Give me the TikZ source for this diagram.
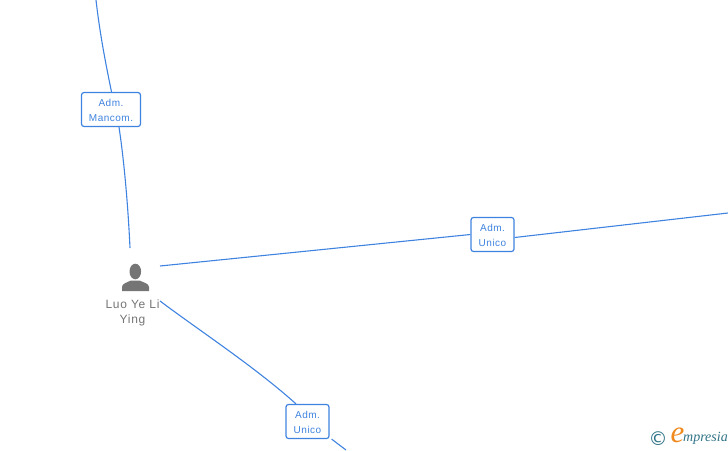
\documentclass[tikz,border=0pt]{standalone}
\usepackage{fontspec}
\setmainfont{Liberation Sans}
\newfontfamily\logofont{Liberation Serif}
\newfontfamily\copyfont{DejaVu Sans}
\definecolor{linkblue}{HTML}{3F83E0}
\definecolor{persongray}{HTML}{757575}
\definecolor{logoteal}{HTML}{2F7387}
\definecolor{logoorange}{HTML}{F08A1D}
\tikzset{
  rolebox/.style={draw=linkblue,line width=1.2pt,rounded corners=2.5pt,fill=white,text=linkblue,
    font=\fontsize{10}{15}\selectfont\addfontfeature{LetterSpace=5},align=center,inner sep=0pt,minimum height=34pt,
    text depth=0pt},
  link/.style={draw=linkblue,line width=1.1pt},
}
\begin{document}
\begin{tikzpicture}[x=1pt,y=-1pt]
  \useasboundingbox (0,0) rectangle (728,450);

  % cargos
  \node[rolebox,minimum width=59pt] (mancom) at (111,109.5) {\raisebox{1pt}{\strut Adm.}\\\raisebox{1pt}{\strut Mancom.}};
  \node[rolebox,minimum width=43pt] (unicoeste) at (492.5,234.5) {\raisebox{1pt}{\strut Adm.}\\\raisebox{1pt}{\strut Unico}};
  \node[rolebox,minimum width=43pt] (unicosur) at (307.5,421.5) {\raisebox{1pt}{\strut Adm.}\\\raisebox{1pt}{\strut Unico}};

  % extremos de las lineas
  \coordinate (arriba) at (96,0);
  \coordinate (personaarriba) at (130,248);
  \coordinate (personaeste) at (160,266);
  \coordinate (personasur) at (160,301);
  \coordinate (este) at (728,213);
  \coordinate (sur) at (346,450);

  % lineas
  \draw[link] (arriba) .. controls (100,35) and (106,65) .. ([xshift=0.5pt]mancom.north);
  \draw[link] ([xshift=8pt]mancom.south) .. controls (124,160) and (128,205) .. (personaarriba);
  \draw[link] (personaeste) -- (unicoeste.west);
  \draw[link] ([yshift=-3pt]unicoeste.east) -- (este);
  \draw[link] (personasur) .. controls (200,331) and (255,367) .. ([xshift=-11.5pt]unicosur.north);
  \draw[link] ([xshift=2pt]unicosur.south east) -- (sur);

  % persona
  \fill[persongray] (135.3,271.5) ellipse (5.8 and 7.8);
  \fill[persongray] (122,291) -- (122,287) .. controls (122,283.5) and (127,282.5) .. (131,280.5)
    -- (139.5,280.5) .. controls (143.5,282.5) and (149,283.5) .. (149,287) -- (149,291) -- cycle;
  \node[text=persongray,font=\fontsize{12}{15.5}\selectfont\addfontfeature{LetterSpace=6},align=center,inner sep=0pt] (luo) at (132.5,313)
    {Luo Ye Li\\Ying};

  % logo
  \node[text=logoteal,font=\copyfont\fontsize{19}{19}\selectfont,inner sep=0pt] (copy) at (658,439) {©};
  \node[text=logoorange,font=\logofont\itshape\fontsize{31}{31}\selectfont,inner sep=0pt] (logoe) at (677.5,435) {e};
  \node[text=logoteal,font=\logofont\itshape\fontsize{14}{14}\selectfont,inner sep=0pt,anchor=west] (logotxt) at (683,438.5) {mpresia};
\end{tikzpicture}
\end{document}
